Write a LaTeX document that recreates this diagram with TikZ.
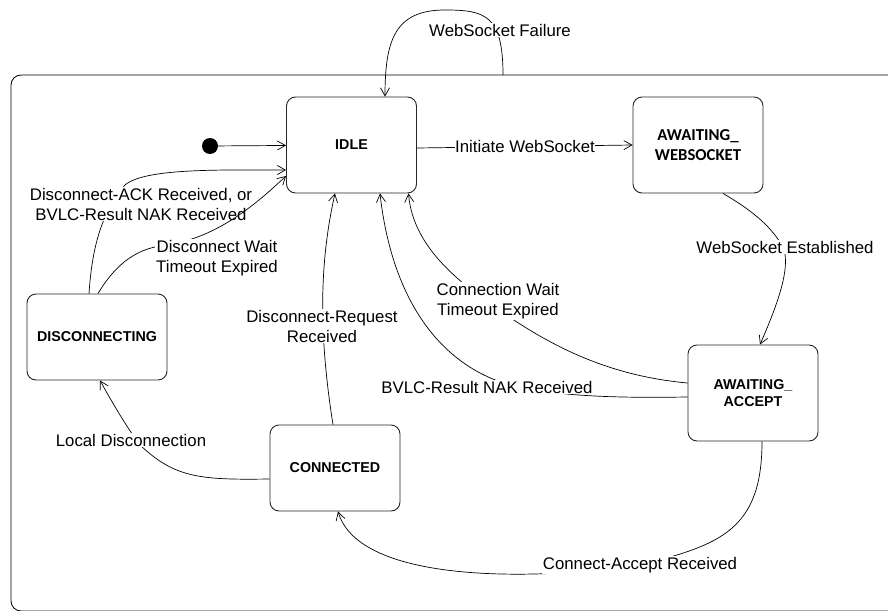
\documentclass[tikz,border=0pt]{standalone}
\usepackage{fontspec}
\setmainfont{Liberation Sans}
\newfontfamily\carl{Carlito}
\usetikzlibrary{arrows.meta,calc}
\begin{document}
\begin{tikzpicture}[x=1pt,y=-1pt,
  state/.style={draw=black!85, line width=0.9pt, rounded corners=9pt, minimum width=130pt, minimum height=96pt, align=center, font=\fontsize{14.3}{17}\selectfont\bfseries, inner sep=0pt},
  lbl/.style={fill=white, inner sep=1pt, align=center, font=\fontsize{16.8}{20}\selectfont},
  tr/.style={line width=0.7pt, -{Straight Barb[length=8pt,width=9pt]}},
  framebox/.style={line width=0.8pt, rounded corners=10pt}
]
\useasboundingbox (0,0) rectangle (888,610);
\fill[white] (0,0) rectangle (888,610);

% frame
\draw[framebox] (895,75) -- (11,75) -- (11,611) -- (895,611);
\coordinate (ftop) at (503,75);

% states
\node[state] (idle) at (351.5,145) {IDLE};
\node[state, font=\carl\fontsize{16.7}{19.5}\selectfont\bfseries] (aws) at (698,145) {AWAITING\_\\WEBSOCKET};
\node[state, minimum width=140pt, minimum height=86pt] (disc) at (97,337) {DISCONNECTING};
\node[state, minimum height=86pt] (conn) at (335,468) {CONNECTED};
\node[state] (acc) at (753,393) {AWAITING\_\\ACCEPT};
\node[circle, fill=black, minimum size=16pt, inner sep=0pt] (init) at (210,146) {};

% E1 initial
\draw[tr] (init) -- (idle);

% E2 WebSocket Failure
\draw[tr] (ftop) .. controls (503,15) and (485,10) .. (445,10) .. controls (395,10) and (385,40) .. ($(idle.north)+(33.5,0)$);
\node[lbl] (lfail) at (500,30) {WebSocket Failure};

% E3 Initiate WebSocket
\draw[tr] ($(idle.east)+(0,3)$) -- (aws.west);
\node[lbl, inner xsep=0pt] (linit) at (525,146) {Initiate WebSocket};

% E4 WebSocket Established
\draw[tr] ($(aws.south)+(25,0)$) .. controls (755,212) and (772,228) .. (783,247) .. controls (792,268) and (775,310) .. ($(acc.north)+(7,0)$);
\node[lbl] (lest) at (785,247) {WebSocket Established};

% E5 Connection Wait Timeout Expired
\draw[tr] ($(acc.west)+(0,-10)$) .. controls (600,375) and (540,340) .. (485,300) .. controls (440,268) and (412,235) .. ($(idle.south)+(57,0)$);
\node[lbl] (lcw) at (498,301) {Connection Wait\\Timeout Expired};

% E6 BVLC-Result NAK Received
\draw[tr] ($(acc.west)+(0,4)$) .. controls (620,398) and (560,397) .. (510,385) .. controls (440,365) and (392,300) .. ($(idle.south)+(28.5,0)$);
\node[lbl] (lnak) at (487,387) {BVLC-Result NAK Received};

% E7 Disconnect-Request Received
\draw[tr] ($(conn.north)+(-2,0)$) .. controls (318,330) and (320,260) .. ($(idle.south)+(-16.5,0)$);
\node[lbl] (ldr) at (322,326) {Disconnect-Request\\Received};

% E8 Local Disconnection
\draw[tr] ($(conn.west)+(0,11)$) .. controls (200,480) and (175,478) .. (140,445) .. controls (125,425) and (108,395) .. ($(disc.south)+(3,0)$);
\node[lbl] (lloc) at (131,440) {Local Disconnection};

% E9 Connect-Accept Received
\draw[tr] ($(acc.south)+(9,0)$) .. controls (762,530) and (720,545) .. (640,565) .. controls (540,580) and (360,585) .. ($(conn.south)+(3,0)$);
\node[lbl] (lca) at (640,565) {Connect-Accept Received};

% E10 Disconnect-ACK Received
\draw[tr] ($(disc.north)+(-8,0)$) .. controls (92,250) and (100,215) .. (125,185) .. controls (145,168) and (220,170) .. ($(idle.west)+(0,25)$);
\node[lbl] (lack) at (141,204) {Disconnect-ACK Received, or\\BVLC-Result NAK Received};

% E11 Disconnect Wait Timeout Expired
\draw[tr] ($(disc.north)+(1,0)$) .. controls (115,265) and (135,250) .. (160,246) .. controls (215,240) and (255,205) .. ($(idle.west)+(0,31)$);
\node[lbl] (ldw) at (217,258) {Disconnect Wait\\Timeout Expired};
\end{tikzpicture}
\end{document}
